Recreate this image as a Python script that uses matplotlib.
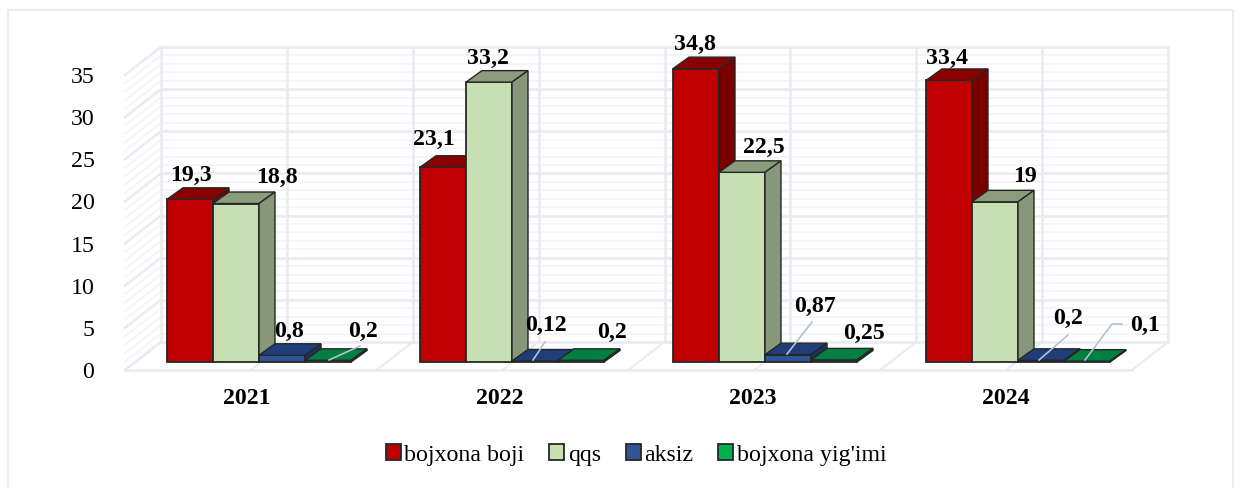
import matplotlib
matplotlib.use("Agg")
import numpy as np
import matplotlib.pyplot as plt
from matplotlib.patches import Patch, Rectangle

years = ["2021", "2022", "2023", "2024"]
names = ["bojxona boji", "qqs", "aksiz", "bojxona yig'imi"]
bojxona_boji = [19.3, 23.1, 34.8, 33.4]
qqs = [18.8, 33.2, 22.5, 19]
aksiz = [0.8, 0.12, 0.87, 0.2]
yigim = [0.2, 0.2, 0.25, 0.1]
yticks = [0, 5, 10, 15, 20, 25, 30, 35]

series = [bojxona_boji, qqs, aksiz, yigim]
front = ["#c00000", "#c6e0b4", "#2f5597", "#00b050"]
top = ["#8a0000", "#8b9c7d", "#1f3d78", "#008040"]
side = ["#7a0000", "#87977a", "#1b3260", "#0a4a2a"]
edge = "#262626"

plt.rcParams['font.family'] = ['Liberation Serif', 'DejaVu Serif']

W, H = 1243, 488
PX_GROUP = 253.0   # px between years
PX_UNIT = 8.43     # px per value unit
X0, X1 = 125, 1132
Y0 = 370
FS = 17.2

fig = plt.figure(figsize=(W / 100, H / 100), dpi=100, facecolor="white")
ax = fig.add_axes([X0 / W, 1 - Y0 / H, (X1 - X0) / W, 35 * PX_UNIT / H])
ax.set_xlim((X0 - 247) / PX_GROUP, (X1 - 247) / PX_GROUP)
ax.set_ylim(0, 35)
ax.patch.set_visible(False)
for s in ax.spines.values():
    s.set_visible(False)


def dx(p):
    return p / PX_GROUP


def dy(p):
    return p / PX_UNIT


def to_x(p):
    return (p - 247) / PX_GROUP


def to_y(p):
    return (Y0 - p) / PX_UNIT


# outer frame
fig.add_artist(Rectangle((8 / W, -0.01), (W - 18) / W, 1 - 10 / H + 0.01, transform=fig.transFigure,
                         fill=False, ec="#e9e9e9", lw=1.2))

# walls and floor
xa, xb = ax.get_xlim()
wx, wy = dx(36), dy(28)
n_col = 8
major_c = "#e9ebf2"
minor_c = "#f4f5f8"
for v in range(0, 36):
    major = v % 5 == 0
    c = major_c if major else minor_c
    lw = 1.8 if major else 1.4
    ax.plot([xa + wx, xb + wx], [v + wy, v + wy], color=c, lw=lw, zorder=1, clip_on=False)
    ax.plot([xa, xa + wx], [v, v + wy], color=c, lw=lw, zorder=1, clip_on=False)
for j in range(n_col + 1):
    xj = xa + wx + j * (xb - xa) / n_col
    ax.plot([xj, xj], [wy, 35 + wy], color=major_c, lw=1.8, zorder=1, clip_on=False)
    ax.plot([xj - wx, xj], [0, wy], color=major_c, lw=1.5, zorder=1, clip_on=False)
ax.plot([xa, xb], [0, 0], color=major_c, lw=1.8, zorder=1, clip_on=False)

# bars
bar_w = dx(46)
base = dy(8)
ddx, ddy = dx(16), dy(11.5)
for i in range(len(years)):
    for k in range(4):
        v = series[k][i]
        left = i + dx(-80) + k * bar_w
        right = left + bar_w
        ax.bar(left, v, width=bar_w, bottom=base, align="edge", color=front[k], edgecolor=edge, lw=1.3,
               zorder=3, clip_on=False)
        ax.fill([left, right, right + ddx, left + ddx], [base + v, base + v, base + v + ddy, base + v + ddy],
                facecolor=top[k], edgecolor=edge, lw=1.0, zorder=3, clip_on=False)
        ax.fill([right, right + ddx, right + ddx, right], [base, base + ddy, base + v + ddy, base + v],
                facecolor=side[k], edgecolor=edge, lw=1.0, zorder=3, clip_on=False)

# data labels, centre in px, by series then year
label_px = [
    [(191, 175), (434, 139), (695, 44), (947, 58)],
    [(277, 177), (488, 58), (764, 147), (1025, 177)],
    [(289, 331), (546, 325), (815, 306), (1068, 318)],
    [(363, 331), (612, 332), (864, 333), (1145, 325)],
]
for k in range(4):
    for i in range(len(years)):
        txt = str(series[k][i]).replace(".", ",")
        ax.text(to_x(label_px[k][i][0]), to_y(label_px[k][i][1]), txt, fontsize=FS, fontweight="bold",
                ha="center", va="center", color="black", zorder=6, clip_on=False)

# leader lines
leaders = [
    [(329, 360), (360, 346)],
    [(533, 360), (545, 342)],
    [(787, 354), (812, 322)],
    [(1039, 360), (1068, 335)],
    [(1085, 360), (1112, 324), (1122, 324)],
]
for pts in leaders:
    ax.plot([to_x(p[0]) for p in pts], [to_y(p[1]) for p in pts], color="#b4c0d2", lw=1.2, zorder=5, clip_on=False)

ax.set_yticks(yticks)
ax.set_xticks(range(len(years)))
ax.set_xticklabels(years, fontweight="bold")
ax.tick_params(axis="y", length=0, pad=22, labelsize=FS)
ax.tick_params(axis="x", length=0, pad=13, labelsize=FS)

handles = [Patch(facecolor=front[k], edgecolor=edge, lw=1.3) for k in range(4)]
fig.legend(handles, names, loc="center", bbox_to_anchor=(636 / W, 1 - 455 / H), ncol=4, frameon=False,
           fontsize=FS, handlelength=0.62, handleheight=0.62, handletextpad=0.15, columnspacing=1.05,
           borderpad=0)

fig.savefig("out.png", dpi=100)
